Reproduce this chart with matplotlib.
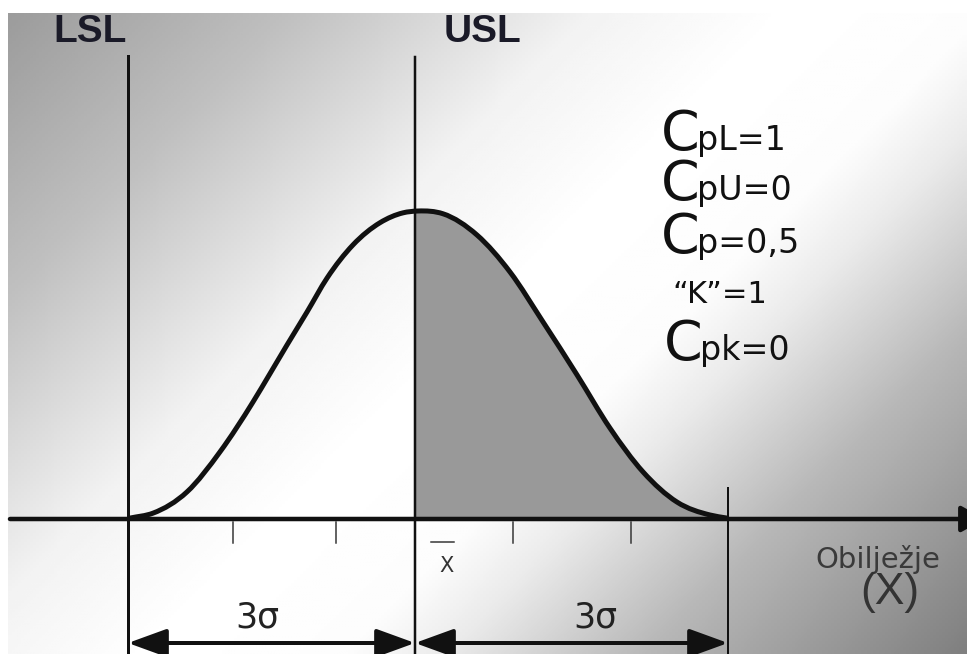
import numpy as np
import matplotlib
matplotlib.use("Agg")
import matplotlib.pyplot as plt
from matplotlib.patches import FancyArrowPatch, PathPatch, Rectangle
from matplotlib.path import Path

# ---------------- data (x in sigma units, curve peak height = 1) ----------------
curve_x = [-2.90, -2.67, -2.33, -2.00, -1.67, -1.50, -1.33, -1.13, -0.93, -0.67,
           -0.40, -0.17, -0.02, 0.23, 0.57, 0.90, 1.23, 1.57, 1.90, 2.23,
           2.57, 2.90, 3.07]
curve_y = [0.003, 0.019, 0.088, 0.218, 0.380, 0.472, 0.565, 0.672, 0.782, 0.890,
           0.962, 0.994, 1.000, 0.991, 0.922, 0.802, 0.640, 0.468, 0.295, 0.153,
           0.055, 0.013, 0.003]
lsl = -2.92            # lower specification limit (LSL line)
usl = -0.05            # upper specification limit (USL line, = x-bar)
upper_3sigma = 3.08    # end of the right 3-sigma span
tick_positions = [-1.87, -0.84, 0.93, 2.11]
limit_labels = ["LSL", "USL"]
cap_prefix = ["C", "C", "C", "", "C"]
cap_rest = ["pL=1", "pU=0", "p=0,5", "\u201cK\u201d=1", "pk=0"]
span_labels = ["3\u03c3", "3\u03c3"]
axis_label = "Obilje\u017eje"
axis_symbol = "(X)"
mean_label = "X"

# ---------------- pixel helpers (layout only) ----------------
W_PX, H_PX = 967, 654
CENTER_PX = 420.0
PX_PER_SIGMA = 100.0
AXIS_PY = 519.0
PEAK_PX = 308.0

def dx(px):
    return (px - CENTER_PX) / PX_PER_SIGMA

def dy(py):
    return (AXIS_PY - py) / PEAK_PX

def pt(px):
    return px * 0.72

fig = plt.figure(figsize=(W_PX / 100, H_PX / 100), dpi=100)
fig.patch.set_facecolor("white")
ax = fig.add_axes([0, 0, 1, 1])
ax.set_xlim(dx(0), dx(W_PX))
ax.set_ylim(dy(H_PX), dy(0))
ax.axis("off")

# ---------------- background gradient panel ----------------
gx = np.linspace(8, W_PX, 320)
gy = np.linspace(13, H_PX, 220)
u = gx[None, :] + gy[:, None]
grad = np.interp(u, [0, 300, 600, 800, 1000, 1100, 1300, 1620],
                 [0.60, 0.75, 0.95, 1.0, 0.99, 0.92, 0.72, 0.50])
ax.imshow(grad, extent=[dx(8), dx(W_PX), dy(H_PX), dy(13)], cmap="gray",
          vmin=0, vmax=1, aspect="auto", interpolation="bilinear",
          origin="upper", zorder=0)

# ---------------- bell curve: smooth Bezier path through the read points ----------------
X = np.array(curve_x)
Y = np.array(curve_y)
n = len(X)
h = np.diff(X)
d = np.diff(Y) / h
m = np.zeros(n)
m[0] = d[0]
m[-1] = d[-1]
for i in range(1, n - 1):
    m[i] = (d[i - 1] * h[i] + d[i] * h[i - 1]) / (h[i - 1] + h[i])
verts = [(X[0], Y[0])]
codes = [Path.MOVETO]
for i in range(n - 1):
    c1 = (X[i] + h[i] / 3.0, Y[i] + m[i] * h[i] / 3.0)
    c2 = (X[i + 1] - h[i] / 3.0, Y[i + 1] - m[i + 1] * h[i] / 3.0)
    verts += [c1, c2, (X[i + 1], Y[i + 1])]
    codes += [Path.CURVE4] * 3
curve_path = Path(verts, codes)

fill_verts = verts + [(X[-1], 0.0), (X[0], 0.0), (X[0], 0.0)]
fill_codes = codes + [Path.LINETO, Path.LINETO, Path.CLOSEPOLY]
fill_patch = PathPatch(Path(fill_verts, fill_codes), facecolor="#999999",
                       edgecolor="none", zorder=1)
ax.add_patch(fill_patch)
clip_rect = Rectangle((usl, -0.5), 5.0, 2.0, transform=ax.transData)
fill_patch.set_clip_path(clip_rect)

ax.add_patch(PathPatch(curve_path, facecolor="none", edgecolor="#111111",
                       lw=pt(5), capstyle="round", joinstyle="round", zorder=4))

# ---------------- horizontal axis with arrow ----------------
ax.add_patch(FancyArrowPatch((dx(10), 0), (dx(985), 0),
                             arrowstyle="-|>,head_length=%f,head_width=%f" % (pt(20), pt(11)),
                             mutation_scale=1, lw=pt(4.5), color="#111111",
                             shrinkA=0, shrinkB=0, zorder=3))

# ---------------- vertical lines ----------------
ax.plot([lsl, lsl], [dy(H_PX), dy(56)], color="#111111", lw=pt(3), zorder=3)
ax.plot([usl, usl], [dy(H_PX), dy(57)], color="#111111", lw=pt(2.5), zorder=3)
ax.plot([upper_3sigma, upper_3sigma], [dy(H_PX), dy(488)], color="#111111",
        lw=pt(2), zorder=3)

# ---------------- ticks ----------------
for t in tick_positions:
    ax.plot([t, t], [dy(522), dy(543)], color="#333333", lw=pt(1.5), zorder=3)

# ---------------- limit labels ----------------
ax.text(dx(90), dy(42), limit_labels[0], ha="center", va="baseline",
        fontsize=28, fontweight="bold", family="Liberation Sans", color="#1a1a28")
ax.text(dx(483), dy(42), limit_labels[1], ha="center", va="baseline",
        fontsize=28, fontweight="bold", family="Liberation Sans", color="#1a1a28")

# ---------------- capability block ----------------
baselines = [150, 200, 253, 303, 360]
c_right = [700, 700, 700, 0, 703]
rest_x = [697, 697, 697, 672, 700]
for pre, rest, b, cr, rx in zip(cap_prefix, cap_rest, baselines, c_right, rest_x):
    if pre:
        ax.text(dx(cr), dy(b), pre, ha="right", va="baseline", fontsize=40,
                family="DejaVu Sans", color="#111111", zorder=5)
    ax.text(dx(rx), dy(b), rest, ha="left", va="baseline",
            fontsize=22 if not pre else 24, family="DejaVu Sans",
            color="#111111", zorder=5)

# ---------------- x-bar ----------------
ax.text(dx(446), dy(572), mean_label, ha="center", va="baseline", fontsize=15,
        family="DejaVu Sans", color="#333333", zorder=5)
ax.plot([dx(431), dx(454)], [dy(542), dy(542)], color="#333333", lw=pt(1.5), zorder=5)

# ---------------- axis label ----------------
ax.text(dx(815), dy(568), axis_label, ha="left", va="baseline", fontsize=21,
        family="DejaVu Sans", color="#3a3a3a", zorder=5)
ax.text(dx(890), dy(604), axis_symbol, ha="center", va="baseline", fontsize=32,
        family="Liberation Sans", color="#333333", zorder=5)

# ---------------- 3 sigma spans ----------------
arrow_y = dy(643)
spans = [(lsl, usl), (usl, upper_3sigma)]
for (a, b), lab in zip(spans, span_labels):
    ax.add_patch(FancyArrowPatch((a, arrow_y), (b, arrow_y),
                                 arrowstyle="<|-|>,head_length=%f,head_width=%f" % (pt(33), pt(12)),
                                 mutation_scale=1, lw=pt(4), color="#111111",
                                 shrinkA=0, shrinkB=0, zorder=4))
ax.text(dx(257), dy(628), span_labels[0], ha="center", va="baseline", fontsize=25,
        family="DejaVu Sans", color="#222222", zorder=5)
ax.text(dx(595), dy(628), span_labels[1], ha="center", va="baseline", fontsize=25,
        family="DejaVu Sans", color="#222222", zorder=5)

fig.savefig("out.png", dpi=100, facecolor="white")
